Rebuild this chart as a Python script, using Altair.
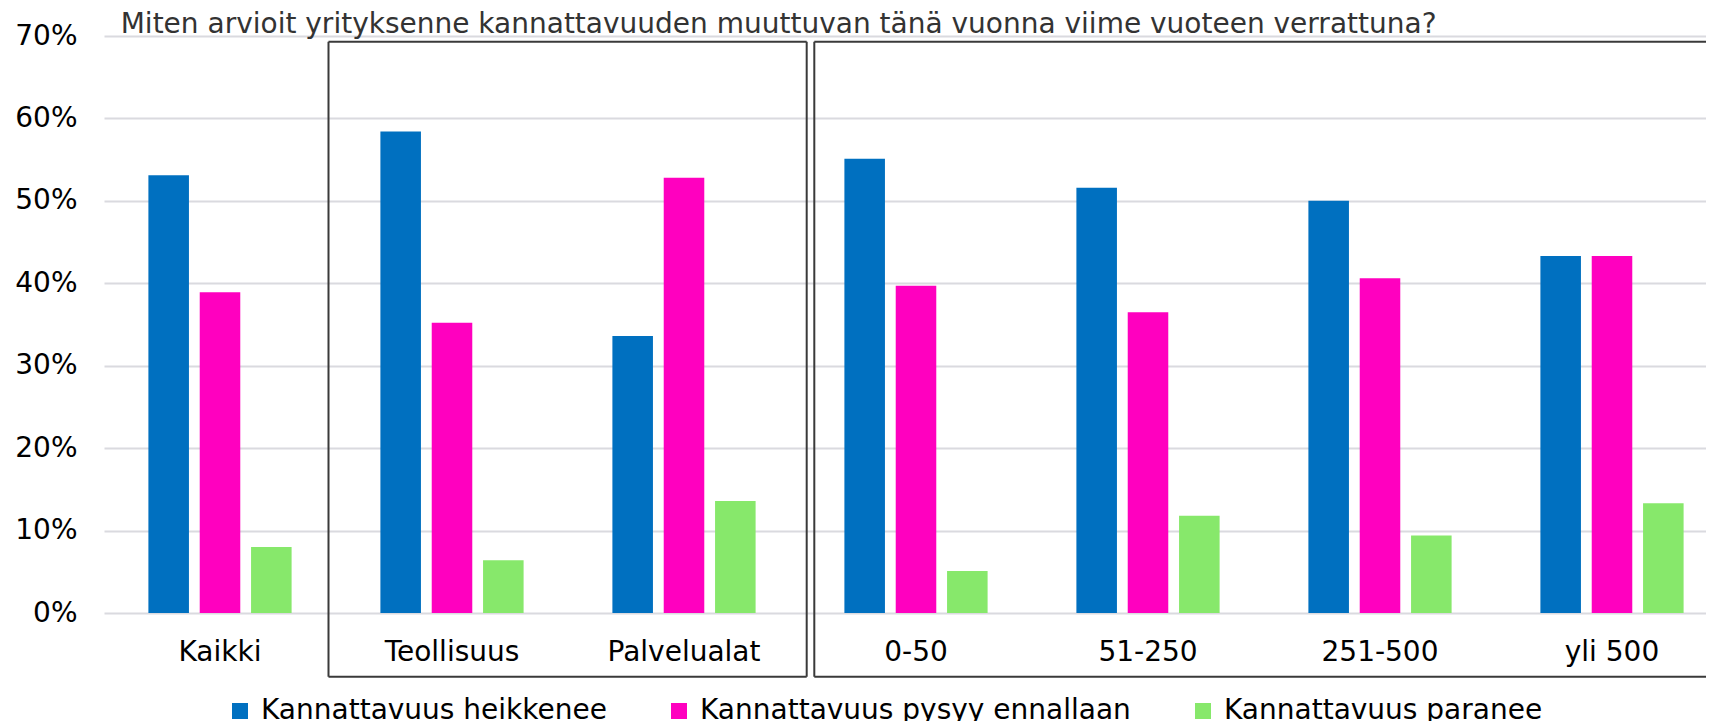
import altair as alt
import pandas as pd

title_text = "Miten arvioit yrityksenne kannattavuuden muuttuvan tänä vuonna viime vuoteen verrattuna?"
categories = ["Kaikki", "Teollisuus", "Palvelualat", "0-50", "51-250", "251-500", "yli 500"]
series = ["Kannattavuus heikkenee", "Kannattavuus pysyy ennallaan", "Kannattavuus paranee"]
heikkenee = [53.1, 58.4, 33.6, 55.1, 51.6, 50.0, 43.3]
pysyy = [38.9, 35.2, 52.8, 39.7, 36.5, 40.6, 43.3]
paranee = [8.0, 6.4, 13.6, 5.1, 11.8, 9.4, 13.3]
colors = ["#0070C0", "#FF00BF", "#87E86B"]
y_ticks = [0, 0.1, 0.2, 0.3, 0.4, 0.5, 0.6, 0.7]

rows = []
for i, c in enumerate(categories):
    for s, vals in zip(series, [heikkenee, pysyy, paranee]):
        rows.append({"category": c, "series": s, "value": vals[i] / 100})
df = pd.DataFrame(rows)

FONT = "DejaVu Sans"
BOX = "#3A3A3A"

bars = alt.Chart(df).mark_bar().encode(
    x=alt.X(
        "category:N",
        sort=categories,
        scale=alt.Scale(type="band", range=[0, 1624], paddingInner=0, paddingOuter=0),
        axis=alt.Axis(title=None, labelAngle=0, labelFontSize=28, labelColor="#000000",
                      labelPadding=25, ticks=False, domain=False, grid=False, labelFont=FONT),
    ),
    xOffset=alt.XOffset("series:N", sort=series,
                        scale=alt.Scale(paddingInner=0.21, paddingOuter=0.865)),
    y=alt.Y(
        "value:Q",
        scale=alt.Scale(domain=[0, 0.7]),
        axis=alt.Axis(title=None, values=y_ticks, format=".0%", labelFontSize=28,
                      labelColor="#000000", labelPadding=27, ticks=False, domain=False,
                      gridColor="#DADADF", gridWidth=2, labelFont=FONT),
    ),
    color=alt.Color(
        "series:N",
        sort=series,
        scale=alt.Scale(domain=series, range=colors),
        legend=alt.Legend(title=None, orient="none", legendX=122, legendY=661,
                          direction="horizontal", symbolType="square", symbolSize=256,
                          symbolStrokeWidth=0, labelFontSize=28, labelColor="#000000",
                          labelOffset=7, columnPadding=58, padding=0, labelLimit=1000,
                          labelFont=FONT),
    ),
)

title = alt.Chart(alt.Data(values=[{"t": title_text}])).mark_text(
    align="left", baseline="alphabetic", fontSize=28, color="#333333", font=FONT
).encode(text="t:N", x=alt.value(16.7), y=alt.value(-2.7))

one = alt.Data(values=[{"k": 1}])


def hline(x1, x2, y):
    return alt.Chart(one).mark_rule(color=BOX, strokeWidth=2).encode(
        x=alt.value(x1), x2=alt.value(x2), y=alt.value(y))


def vline(x, y1, y2):
    return alt.Chart(one).mark_rule(color=BOX, strokeWidth=2).encode(
        x=alt.value(x), y=alt.value(y1), y2=alt.value(y2))


# box around industry groups
box1 = [hline(224.5, 702.7, 5.7), hline(224.5, 702.7, 640.7),
        vline(224.5, 5.7, 640.7), vline(702.7, 5.7, 640.7)]
# box around size groups (runs on past the right edge)
box2 = [hline(710.3, 1700, 5.7), hline(710.3, 1700, 640.7), vline(710.3, 5.7, 640.7)]

chart = alt.layer(bars, *box1, *box2, title).properties(
    width=1602,
    height=577,
    autosize=alt.AutoSizeParams(type="none"),
    padding={"left": 96, "top": 28, "right": 0, "bottom": 108},
).configure(
    font=FONT,
    view=alt.ViewConfig(stroke="transparent", strokeWidth=0, strokeOpacity=0),
)

chart.save("out.html", embed_options={"renderer": "svg", "actions": False})
